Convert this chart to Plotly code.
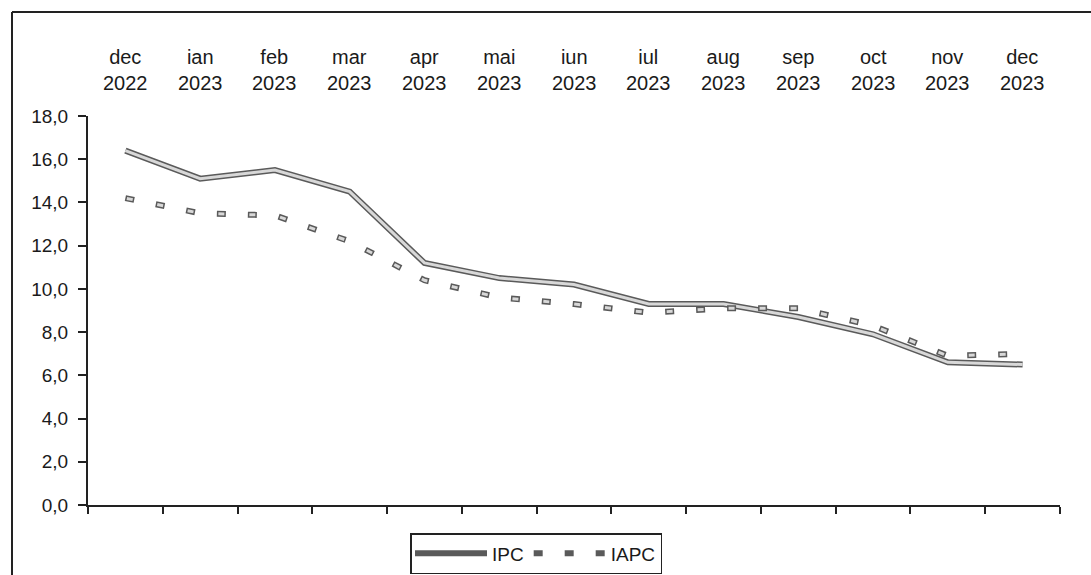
import plotly.graph_objects as go

months = ["dec", "ian", "feb", "mar", "apr", "mai", "iun", "iul", "aug", "sep", "oct", "nov", "dec"]
years = ["2022", "2023", "2023", "2023", "2023", "2023", "2023", "2023", "2023", "2023", "2023", "2023", "2023"]
categories = [f"{m} {y}" for m, y in zip(months, years)]

ipc = [16.4, 15.1, 15.5, 14.5, 11.2, 10.5, 10.2, 9.3, 9.3, 8.7, 7.9, 6.6, 6.5]
iapc = [14.2, 13.5, 13.4, 12.2, 10.4, 9.6, 9.3, 8.9, 9.1, 9.1, 8.3, 6.9, 7.0]

W, H = 1091, 575
L, R, T, B = 88, 31, 116, 70
PW = W - L - R
PH = H - T - B


def px_x(p):
    return (p - L) / PW


def px_y(p):
    return (H - B - p) / PH


FONT = "Liberation Sans, Arial, sans-serif"
DARK = "#5a5a5a"
LIGHT = "#d8d8d8"

fig = go.Figure()

# IPC: double line (dark outline + light core)
fig.add_trace(go.Scatter(x=categories, y=ipc, mode="lines", name="IPC",
                         line=dict(color=DARK, width=6), showlegend=True, legendgroup="ipc"))
fig.add_trace(go.Scatter(x=categories, y=ipc, mode="lines", name="IPC",
                         line=dict(color=LIGHT, width=3), showlegend=False, legendgroup="ipc"))

# IAPC: outlined short dashes
fig.add_trace(go.Scatter(x=categories, y=iapc, mode="lines", name="IAPC",
                         line=dict(color=DARK, width=6, dash="9px,22px"), showlegend=True, legendgroup="iapc"))
fig.add_trace(go.Scatter(x=categories, y=iapc, mode="lines", name="IAPC",
                         line=dict(color=LIGHT, width=3, dash="0px,1.5px,6px,23.5px"), showlegend=False,
                         legendgroup="iapc"))

annotations = []
for c, m, y in zip(categories, months, years):
    annotations.append(dict(x=c, xref="x", y=px_y(70), yref="paper", text=f"{m}<br>{y}",
                            showarrow=False, xanchor="center", yanchor="middle",
                            font=dict(family=FONT, size=20, color="#1a1a1a")))

shapes = [
    dict(type="line", xref="paper", yref="paper", x0=px_x(12), x1=px_x(12), y0=px_y(12), y1=px_y(H + 5),
         line=dict(color="#222", width=2)),
    dict(type="line", xref="paper", yref="paper", x0=px_x(12), x1=px_x(W + 5), y0=px_y(12), y1=px_y(12),
         line=dict(color="#222", width=2)),
]

fig.update_layout(
    width=W, height=H,
    margin=dict(l=L, r=R, t=T, b=B, autoexpand=False),
    paper_bgcolor="white", plot_bgcolor="white",
    separators=",.",
    font=dict(family=FONT, size=19, color="#1a1a1a"),
    annotations=annotations,
    shapes=shapes,
    legend=dict(orientation="h", x=px_x(536), xanchor="center", y=px_y(533), yanchor="top",
                bordercolor="#222", borderwidth=1.5, bgcolor="white",
                itemwidth=72, font=dict(family=FONT, size=19, color="#1a1a1a"),
                tracegroupgap=0),
    xaxis=dict(type="category", range=[-0.5, 12.5], tickson="boundaries", ticks="outside",
               ticklen=7, tickwidth=2, tickcolor="#222", showticklabels=False,
               showline=True, linecolor="#222", linewidth=2, showgrid=False, zeroline=False,
               fixedrange=True),
    yaxis=dict(range=[0, 18], tickmode="linear", tick0=0, dtick=2, tickformat=".1f",
               ticks="outside", ticklen=8, tickwidth=2, tickcolor="#222",
               showline=True, linecolor="#222", linewidth=2, showgrid=False, zeroline=False,
               ticklabelstandoff=6, fixedrange=True),
)

fig.write_html("out.html", config={"displayModeBar": False},
               post_script="document.body.style.margin='0';document.body.style.overflow='hidden';")
